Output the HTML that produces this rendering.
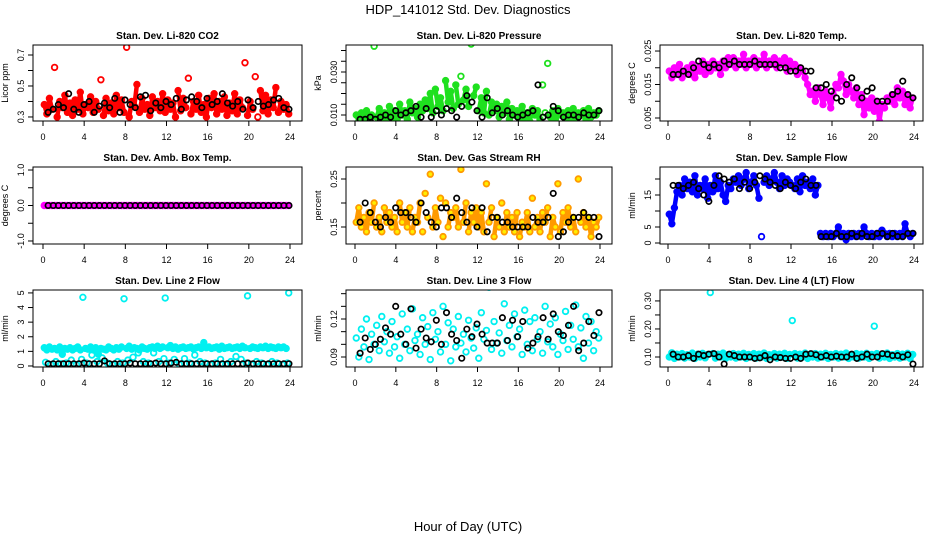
<!DOCTYPE html>
<html><head><meta charset="utf-8"><title>HDP_141012 Std. Dev. Diagnostics</title>
<style>
html,body{margin:0;padding:0;background:#fff;}
svg{display:block;font-family:"Liberation Sans",sans-serif;}
</style></head>
<body>
<svg id="chart" width="936" height="540" viewBox="0 0 936 540">
<text x="468" y="14" text-anchor="middle" font-size="13">HDP_141012  Std. Dev. Diagnostics</text>
<text x="468" y="531" text-anchor="middle" font-size="13">Hour of Day (UTC)</text>
</svg>
<script>
// ---------- data ----------
const xTicks = [0,4,8,12,16,20,24];
const panelTitles = ["Stan. Dev. Li-820 CO2","Stan. Dev. Li-820 Pressure","Stan. Dev. Li-820 Temp.","Stan. Dev. Amb. Box Temp.","Stan. Dev. Gas Stream RH","Stan. Dev. Sample Flow","Stan. Dev. Line 2 Flow","Stan. Dev. Line 3 Flow","Stan. Dev. Line 4 (LT) Flow"];
const yLabels = ["Licor ppm","kPa","degrees C","degrees C","percent","ml/min","ml/min","ml/min","ml/min"];

const co2Color = [0.38,0.32,0.42,0.35,0.62,0.30,0.40,0.36,0.44,0.33,0.39,0.31,0.41,0.35,0.46,0.32,0.38,0.36,0.43,0.33,0.40,0.35,0.54,0.31,0.42,0.34,0.39,0.32,0.44,0.36,0.41,0.33,0.75,0.30,0.40,0.37,0.51,0.33,0.42,0.35,0.38,0.31,0.43,0.36,0.40,0.34,0.45,0.33,0.41,0.35,0.39,0.30,0.47,0.34,0.42,0.36,0.55,0.32,0.40,0.35,0.44,0.33,0.38,0.30,0.42,0.36,0.45,0.32,0.40,0.35,0.43,0.31,0.39,0.34,0.45,0.32,0.41,0.36,0.65,0.31,0.40,0.35,0.56,0.30,0.47,0.34,0.44,0.32,0.41,0.36,0.49,0.33,0.40,0.35,0.38,0.32];
const co2Black = [0.33,0.35,0.38,0.36,0.45,0.35,0.33,0.38,0.40,0.33,0.37,0.39,0.36,0.42,0.33,0.41,0.38,0.36,0.43,0.44,0.34,0.39,0.36,0.40,0.38,0.42,0.35,0.41,0.43,0.40,0.36,0.42,0.38,0.40,0.45,0.39,0.37,0.40,0.35,0.41,0.36,0.40,0.37,0.38,0.41,0.42,0.36,0.35];

const presColor = [0.010,0.007,0.011,0.008,0.012,0.007,0.010,0.042,0.009,0.013,0.008,0.011,0.007,0.014,0.009,0.012,0.008,0.015,0.010,0.012,0.008,0.016,0.011,0.013,
0.009,0.015,0.012,0.017,0.013,0.020,0.011,0.022,0.014,0.018,0.012,0.026,0.016,0.021,0.013,0.024,0.015,0.028,0.017,0.022,0.014,0.043,0.019,0.023,
0.012,0.018,0.011,0.021,0.010,0.016,0.012,0.015,0.009,0.014,0.011,0.016,0.008,0.013,0.010,0.012,0.008,0.014,0.009,0.011,0.007,0.013,0.010,0.012,
0.008,0.024,0.011,0.034,0.009,0.012,0.008,0.013,0.010,0.011,0.008,0.012,0.009,0.013,0.008,0.011,0.010,0.012,0.008,0.013,0.009,0.011,0.010,0.012];
const presBlack = [0.008,0.008,0.009,0.008,0.009,0.010,0.009,0.012,0.010,0.011,0.012,0.014,0.009,0.013,0.009,0.012,0.010,0.013,0.012,0.009,0.014,0.019,0.016,0.012,0.009,0.018,0.011,0.013,0.010,0.012,0.010,0.009,0.010,0.011,0.012,0.024,0.009,0.010,0.014,0.012,0.009,0.010,0.010,0.009,0.011,0.010,0.010,0.012];

const tempColor = [0.019,0.017,0.020,0.018,0.021,0.017,0.019,0.020,0.018,0.021,0.017,0.020,0.019,0.022,0.018,0.021,0.019,0.022,0.020,0.021,0.018,0.022,0.020,0.023,
0.021,0.023,0.020,0.022,0.021,0.024,0.020,0.022,0.021,0.023,0.020,0.022,0.021,0.024,0.020,0.022,0.021,0.023,0.020,0.022,0.021,0.023,0.019,0.022,
0.020,0.021,0.018,0.020,0.019,0.017,0.015,0.012,0.013,0.010,0.014,0.012,0.009,0.013,0.011,0.008,0.012,0.015,0.014,0.018,0.016,0.012,0.015,0.013,
0.011,0.014,0.009,0.012,0.006,0.010,0.008,0.011,0.007,0.010,0.004,0.009,0.008,0.011,0.010,0.012,0.009,0.014,0.011,0.013,0.009,0.012,0.008,0.011];
const tempBlack = [0.018,0.018,0.019,0.018,0.020,0.022,0.021,0.020,0.021,0.020,0.022,0.021,0.022,0.021,0.021,0.021,0.022,0.021,0.021,0.021,0.021,0.020,0.020,0.019,0.019,0.020,0.019,0.019,0.014,0.014,0.015,0.013,0.011,0.010,0.015,0.017,0.014,0.011,0.013,0.014,0.010,0.010,0.010,0.012,0.013,0.016,0.012,0.011];

const boxColor = [0,0,0,0,0,0,0,0,0,0,0,0,0,0,0,0,0,0,0,0,0,0,0,0,0,0,0,0,0,0,0,0,0,0,0,0,0,0,0,0,0,0,0,0,0,0,0,0,0,0,0,0,0,0,0,0,0,0,0,0,0,0,0,0,0,0,0,0,0,0,0,0,0,0,0,0,0,0,0,0,0,0,0,0,0,0,0,0,0,0,0,0,0,0,0,0];
const boxBlack = [0,0,0,0,0,0,0,0,0,0,0,0,0,0,0,0,0,0,0,0,0,0,0,0,0,0,0,0,0,0,0,0,0,0,0,0,0,0,0,0,0,0,0,0,0,0,0,0];

const rhColor = [0.16,0.19,0.15,0.17,0.14,0.18,0.16,0.20,0.15,0.17,0.14,0.19,0.16,0.18,0.15,0.17,0.14,0.20,0.16,0.18,0.15,0.19,0.14,0.17,
0.16,0.20,0.14,0.22,0.17,0.26,0.15,0.19,0.16,0.21,0.13,0.20,0.15,0.18,0.17,0.19,0.15,0.27,0.16,0.20,0.14,0.18,0.16,0.19,
0.15,0.18,0.14,0.24,0.16,0.19,0.13,0.17,0.15,0.20,0.14,0.18,0.15,0.17,0.14,0.18,0.13,0.16,0.15,0.18,0.14,0.21,0.15,0.17,
0.14,0.18,0.16,0.19,0.13,0.17,0.15,0.24,0.14,0.18,0.16,0.19,0.15,0.17,0.14,0.25,0.16,0.18,0.15,0.17,0.13,0.16,0.15,0.17];
const rhBlack = [0.16,0.20,0.18,0.16,0.15,0.17,0.16,0.19,0.18,0.18,0.17,0.16,0.20,0.18,0.16,0.15,0.19,0.19,0.17,0.21,0.18,0.16,0.19,0.15,0.19,0.14,0.17,0.17,0.16,0.16,0.15,0.15,0.15,0.15,0.17,0.16,0.16,0.17,0.22,0.13,0.14,0.16,0.17,0.17,0.18,0.17,0.17,0.13];

const flowColor = [9,6,11,16,18,15,20,17,19,16,21,15,18,17,20,14,18,16,21,17,19,15,13,18,
17,20,19,21,18,20,22,17,19,21,18,14,2,19,21,18,20,22,19,17,21,18,20,19,
18,17,20,16,21,18,19,17,20,15,18,3,2,3,2,3,2,3,5,2,3,1,3,2,
3,2,3,2,5,3,2,3,2,3,2,4,3,2,3,2,3,2,3,2,6,3,2,3];
const flowBlack = [18,18,17,18,19,17,15,13,18,21,20,19,20,17,19,17,19,21,20,19,18,17,19,18,17,19,20,18,18,2,2,2,3,2,2,3,2,3,2,2,3,3,2,3,2,2,3,3];

const line2Color = [1.25,1.1,1.3,1.15,1.2,1.1,1.3,0.8,1.2,1.15,1.25,1.1,1.2,1.3,1.1,4.7,1.2,1.15,1.3,1.1,1.25,0.8,1.2,1.15,
1.1,1.3,1.2,1.1,1.25,1.15,1.3,4.6,1.2,1.35,1.15,1.25,1.2,1.1,1.3,1.2,1.15,1.25,1.3,1.2,1.35,1.2,1.3,4.65,
1.25,1.4,1.2,1.3,1.15,1.25,1.3,1.2,1.25,1.3,1.15,1.25,1.3,1.2,1.6,1.25,1.3,1.2,1.25,1.3,1.15,1.35,1.2,1.25,
1.3,1.2,1.25,1.3,1.2,1.35,1.25,4.8,1.2,1.3,1.25,1.2,1.3,1.25,1.35,1.2,1.3,1.25,1.2,1.3,1.25,1.3,1.2,5.0];
const line2Low = [0.25,0.1,0.3,0.15,0.2,0.4,0.1,0.45,0.2,0.75,0.3,0.55,0.2,0.1,0.3,0.2,0.4,0.6,0.9,0.3,0.2,0.9,0.3,0.5,0.2,0.45,0.1,0.5,0.2,0.75,0.3,0.2,0.1,0.2,0.45,0.1,0.3,0.65,0.45,0.2,0.1,0.3,0.2,0.1,0.3,0.2,0.1,0.2];
const line2Black = [0.15,0.15,0.15,0.15,0.15,0.15,0.15,0.2,0.15,0.15,0.15,0.35,0.15,0.15,0.15,0.15,0.2,0.15,0.15,0.15,0.15,0.2,0.15,0.15,0.2,0.25,0.15,0.15,0.15,0.15,0.15,0.15,0.15,0.15,0.15,0.15,0.15,0.15,0.15,0.2,0.15,0.15,0.15,0.15,0.15,0.15,0.15,0.15];

const line3Color = [0.105,0.09,0.112,0.098,0.12,0.088,0.108,0.1,0.115,0.095,0.122,0.102,0.11,0.093,0.118,0.098,0.106,0.089,0.124,0.1,0.112,0.095,0.128,0.103,
0.108,0.092,0.121,0.1,0.114,0.088,0.125,0.104,0.11,0.094,0.13,0.1,0.117,0.087,0.112,0.098,0.122,0.101,0.108,0.094,0.119,0.105,0.097,0.113,
0.089,0.125,0.104,0.111,0.145,0.096,0.118,0.101,0.109,0.093,0.132,0.103,0.115,0.098,0.124,0.106,0.112,0.092,0.127,0.1,0.118,0.095,0.121,0.104,
0.11,0.093,0.13,0.102,0.116,0.098,0.121,0.092,0.108,0.103,0.126,0.096,0.115,0.104,0.131,0.098,0.113,0.089,0.122,0.101,0.118,0.095,0.11,0.105];
const line3Black = [0.093,0.105,0.096,0.1,0.104,0.113,0.108,0.13,0.108,0.1,0.128,0.097,0.112,0.105,0.102,0.119,0.1,0.125,0.108,0.103,0.089,0.112,0.106,0.116,0.108,0.101,0.101,0.101,0.121,0.103,0.119,0.106,0.118,0.097,0.101,0.106,0.121,0.104,0.124,0.11,0.107,0.115,0.13,0.095,0.101,0.118,0.107,0.125];

const line4Color = [0.10,0.115,0.095,0.11,0.1,0.112,0.096,0.108,0.1,0.114,0.095,0.11,0.1,0.113,0.097,0.109,0.33,0.112,0.096,0.11,0.1,0.114,0.095,0.108,
0.1,0.112,0.096,0.11,0.1,0.113,0.095,0.109,0.1,0.112,0.096,0.11,0.1,0.114,0.095,0.108,0.1,0.112,0.096,0.11,0.1,0.113,0.095,0.109,
0.23,0.112,0.096,0.11,0.1,0.114,0.095,0.108,0.1,0.112,0.096,0.11,0.1,0.113,0.095,0.109,0.1,0.112,0.096,0.11,0.1,0.114,0.095,0.108,
0.1,0.112,0.096,0.11,0.1,0.113,0.095,0.109,0.21,0.112,0.096,0.11,0.1,0.114,0.095,0.108,0.1,0.112,0.096,0.11,0.1,0.113,0.095,0.109];
const line4Black = [0.11,0.10,0.10,0.105,0.095,0.11,0.105,0.11,0.112,0.10,0.075,0.11,0.105,0.10,0.10,0.10,0.095,0.097,0.105,0.09,0.10,0.098,0.095,0.095,0.10,0.095,0.11,0.112,0.108,0.10,0.105,0.10,0.103,0.10,0.10,0.11,0.095,0.10,0.11,0.10,0.10,0.112,0.11,0.105,0.105,0.10,0.108,0.075];

const yTickVals = [[0.3,0.4,0.5,0.6,0.7],[0.010,0.015,0.020,0.025,0.030,0.035,0.040],[0.005,0.010,0.015,0.020,0.025],[-1,-0.5,0,0.5,1],[0.15,0.20,0.25],[0,5,10,15,20],[0,1,2,3,4,5],[0.09,0.10,0.11,0.12,0.13,0.14],[0.10,0.15,0.20,0.25,0.30]];
const yTickLabels = [["0.3","","0.5","","0.7"],["0.010","","","","0.030","",""],["0.005","","0.015","","0.025"],["-1.0","","0.0","","1.0"],["0.15","","0.25"],["0","5","","15",""],["0","1","2","3","4","5"],["0.09","","","0.12","",""],["0.10","","0.20","","0.30"]];
const yDomains = [[0.274,0.7645],[0.00721,0.04256],[0.0041,0.0268],[-1.085,1.085],[0.1146,0.275],[-0.31,23.75],[-0.07,5.2],[0.0821,0.1429],[0.0643,0.339]];

const colorSeries = [[co2Color],[presColor],[tempColor],[boxColor],[rhColor],[flowColor],[line2Color,line2Low],[line3Color],[line4Color]];
const denseFlags = [[true],[true],[true],[true],[true],[true],[true,false],[false],[true]];
const blackSeries = [co2Black,presBlack,tempBlack,boxBlack,rhBlack,flowBlack,line2Black,line3Black,line4Black];
const seriesColors = ["#ff0000","#1ee01e","#ff00ff","#ff00ff","#ff9a00","#0000ff","#00f0f0","#00f0f0","#00f0f0"];

// ---------- layout ----------
const colBox = [[33,302,43,290],[346,612,355,600],[660,923,668,914]];
const rowBox = [[45,121],[167,244],[290,367]];
const NS = "http://www.w3.org/2000/svg";
const svg = document.getElementById('chart');
function mk(tag, attrs, parent){ const e=document.createElementNS(NS,tag); for(const k in attrs) e.setAttribute(k,attrs[k]); (parent||svg).appendChild(e); return e; }

for(let p=0;p<9;p++){
  const col=p%3,row=Math.floor(p/3);
  const [bl,br,x0,x24]=colBox[col]; const [bt,bb]=rowBox[row];
  const [ymin,ymax]=yDomains[p];
  const xs=v=>x0+(x24-x0)*v/24;
  const ys=v=>bb-(bb-bt)*(v-ymin)/(ymax-ymin);
  const g=mk('g',{});
  
  
  const t=mk('text',{x:(bl+br)/2,y:bt-6,'text-anchor':'middle','font-size':'10','font-weight':'bold'},g);
  t.textContent=panelTitles[p];
  
  
  const yl=mk('text',{x:0,y:0,'text-anchor':'middle','font-size':'9',transform:`translate(${bl-25},${(bt+bb)/2}) rotate(-90)`},g);
  yl.textContent=yLabels[p];
  
  
  const xa=mk('g',{},g);
  
  
  mk('line',{x1:xs(0),x2:xs(24),y1:bb,y2:bb,stroke:'#000','stroke-width':1},xa);
  xTicks.forEach(v=>{
    mk('line',{x1:xs(v),x2:xs(v),y1:bb,y2:bb+5,stroke:'#000','stroke-width':1},xa);
    const tl=mk('text',{x:xs(v),y:bb+19,'text-anchor':'middle','font-size':'9'},xa);
    tl.textContent=v;
    
    
  });
  const ya=mk('g',{},g);
  
  
  const tv=yTickVals[p];
  mk('line',{x1:bl,x2:bl,y1:ys(tv[0]),y2:ys(tv[tv.length-1]),stroke:'#000','stroke-width':1},ya);
  tv.forEach((v,i)=>{
    mk('line',{x1:bl-5,x2:bl,y1:ys(v),y2:ys(v),stroke:'#000','stroke-width':1},ya);
    if(yTickLabels[p][i]){
      const tl=mk('text',{x:0,y:0,'text-anchor':'middle','font-size':'9',transform:`translate(${bl-9},${ys(v)}) rotate(-90)`},ya);
      tl.textContent=yTickLabels[p][i];
      
      
    }
  });
  const clip='clip'+p;
  const cp=mk('clipPath',{id:clip},g); mk('rect',{x:bl,y:bt,width:br-bl,height:bb-bt},cp);
  const pts=mk('g',{'clip-path':`url(#${clip})`,fill:'none'},g);
  colorSeries[p].forEach((arr,si)=>{
    const px=arr.map((v,i)=>xs((i+0.5)*24/arr.length));
    const py=arr.map(v=>ys(v));
    if(denseFlags[p][si]){
      // dense cloud: join neighbouring samples unless the jump is an outlier
      for(let i=1;i<arr.length;i++){
        if(Math.abs(py[i]-py[i-1])<22){
          const s=mk('line',{x1:px[i-1],y1:py[i-1],x2:px[i],y2:py[i],stroke:seriesColors[p],'stroke-width':4.5,'stroke-linecap':'round'},pts);
          
          
        }
      }
    }
    arr.forEach((v,i)=>{
      const c=mk('circle',{cx:px[i],cy:py[i],r:2.8,stroke:seriesColors[p],'stroke-width':1.8,fill:p===4?'#ffee00':'none'},pts);
      
      
    });
  });
  const barr=blackSeries[p];
  barr.forEach((v,i)=>{
    const hx=0.5+i*23.4/(barr.length-1);
    const c=mk('circle',{cx:xs(hx),cy:ys(v),r:2.7,stroke:'#000','stroke-width':1.7},pts);
    
    
  });
  const box=mk('rect',{x:bl,y:bt,width:br-bl,height:bb-bt,fill:'none',stroke:'#000','stroke-width':1},g);
  
  
}
</script>
</body></html>
